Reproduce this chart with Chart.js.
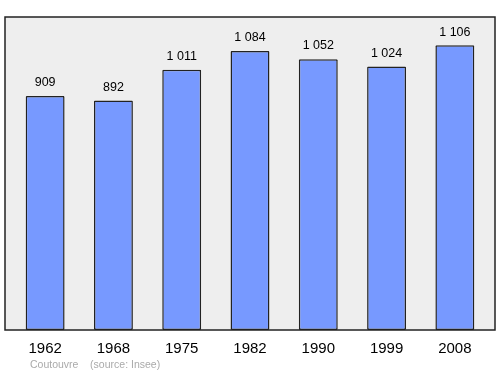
<!DOCTYPE html>
<html>
<head>
<meta charset="utf-8">
<script src="https://cdn.jsdelivr.net/npm/chart.js@4/dist/chart.umd.min.js"></script>
<style>
  html, body { margin: 0; padding: 0; background: #fff; }
  #wrap { width: 500px; height: 374px; position: relative; }
</style>
</head>
<body>
<div id="wrap"><canvas id="myChart" width="500" height="374"></canvas></div>
<script>
// données
var years = ['1962', '1968', '1975', '1982', '1990', '1999', '2008'];
var population = [909, 892, 1011, 1084, 1052, 1024, 1106];
var yMax = 1216;

var fmt = function(v) {
  return String(v).replace(/\B(?=(\d{3})+(?!\d))/g, ' ');
};

var frameExtra = 6; // le cadre déborde un peu de la zone des barres

// fond gris + cadre noir + étiquettes + source
var decor = {
  id: 'decor',
  beforeDraw: function(chart) {
    var c = chart.ctx, a = chart.chartArea;
    c.save();
    c.fillStyle = '#ffffff';
    c.fillRect(0, 0, chart.width, chart.height);
    c.fillStyle = '#eeeeee';
    c.fillRect(a.left - frameExtra, a.top, a.right - a.left + 2 * frameExtra, a.bottom - a.top);
    c.restore();
  },
  afterDatasetsDraw: function(chart) {
    var c = chart.ctx, a = chart.chartArea;
    c.save();
    c.strokeStyle = '#222';
    c.lineWidth = 1.5;
    c.strokeRect(a.left - frameExtra, a.top, a.right - a.left + 2 * frameExtra, a.bottom - a.top);
    c.fillStyle = '#000';
    c.font = '12.5px "Liberation Sans", Arial, sans-serif';
    c.textAlign = 'center';
    c.textBaseline = 'bottom';
    chart.getDatasetMeta(0).data.forEach(function(bar, i) {
      c.fillText(fmt(population[i]), bar.x, bar.y - 7);
    });
    c.fillStyle = '#aaaaaa';
    c.font = '10.5px "Liberation Sans", Arial, sans-serif';
    c.textAlign = 'left';
    c.textBaseline = 'middle';
    c.fillText('Coutouvre    (source: Insee)', 30, 365);
    c.restore();
  }
};

var ctx = document.getElementById('myChart').getContext('2d');
var myChart = new Chart(ctx, {
  type: 'bar',
  data: {
    labels: years,
    datasets: [{
      data: population,
      backgroundColor: '#7799ff',
      borderColor: '#222',
      borderWidth: 1.5,
      borderSkipped: false,
      borderRadius: 1,
      categoryPercentage: 1,
      barPercentage: 0.57
    }]
  },
  options: {
    responsive: false,
    animation: false,
    layout: { padding: { left: 11, right: 11, top: 17, bottom: 0 } },
    plugins: { legend: { display: false }, tooltip: { enabled: false } },
    scales: {
      x: {
        grid: { display: false },
        border: { display: false },
        ticks: { color: '#000', font: { size: 15, family: '"Liberation Sans", Arial, sans-serif' }, padding: 2, maxRotation: 0 },
        afterFit: function(s) { s.height = 44; }
      },
      y: { display: false, min: 0, max: yMax }
    }
  },
  plugins: [decor]
});
</script>
</body>
</html>
